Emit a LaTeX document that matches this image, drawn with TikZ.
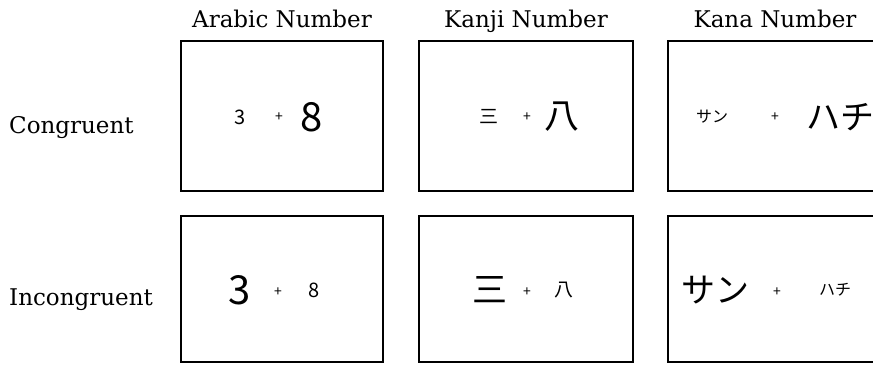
\documentclass[tikz,border=0pt]{standalone}
\usepackage{fontspec}
\setmainfont{DejaVu Serif}
\newfontfamily\jpfont{Noto Sans CJK JP}
\usetikzlibrary{positioning}
\tikzset{
  cell/.style={draw,line width=1.8pt,inner sep=0pt},
  head/.style={font=\fontsize{23}{27}\selectfont,inner sep=0pt},
  cond/.style={font=\fontsize{23}{27}\selectfont,inner sep=0pt,anchor=base west},
  bigdigit/.style={font=\jpfont\fontsize{40}{42}\selectfont,inner sep=0pt},
  smalldigit/.style={font=\jpfont\fontsize{20}{22}\selectfont,inner sep=0pt},
  bigkanji/.style={font=\jpfont\fontsize{35}{37}\selectfont,inner sep=0pt},
  smallkanji/.style={font=\jpfont\fontsize{19}{21}\selectfont,inner sep=0pt},
  bigkana/.style={font=\jpfont\fontsize{34}{36}\selectfont,inner sep=0pt},
  smallkana/.style={font=\jpfont\fontsize{16}{18}\selectfont,inner sep=0pt},
  plus/.style={font=\jpfont\fontsize{14}{16}\selectfont,inner sep=0pt}
}

\begin{document}
\begin{tikzpicture}[x=1pt,y=-1pt]
\useasboundingbox (0,0) rectangle (873,365);
\clip (0,0) rectangle (873,365);
% cells
\node[cell,minimum width=202pt,minimum height=150pt] (ar1) at (282,116) {};
\node[cell,minimum width=214pt,minimum height=150pt] (kj1) at (526,116) {};
\node[cell,minimum width=214pt,minimum height=150pt] (kn1) at (775,116) {};
\node[cell,minimum width=202pt,minimum height=146pt] (ar2) at (282,289) {};
\node[cell,minimum width=214pt,minimum height=146pt] (kj2) at (526,289) {};
\node[cell,minimum width=214pt,minimum height=146pt] (kn2) at (775,289) {};
% headers
\node[head,above=13pt of ar1.north,anchor=base] (harabic) {Arabic Number};
\node[head,above=13pt of kj1.north,anchor=base] (hkanji) {Kanji Number};
\node[head,above=13pt of kn1.north,anchor=base] (hkana) {Kana Number};
% conditions
\node[cond] (congruent) at (9,133) {Congruent};
\node[cond] (incongruent) at (9,305) {Incongruent};
% congruent row
\node[smalldigit] (ar1l) at ([xshift=-42pt,yshift=-1pt]ar1.center) {3};
\node[plus] (ar1p) at ([xshift=-3pt,yshift=-1pt]ar1.center) {+};
\node[bigdigit] (ar1r) at ([xshift=30pt,yshift=-1pt]ar1.center) {8};
\node[smallkanji] (kj1l) at ([xshift=-37pt,yshift=-1pt]kj1.center) {三};
\node[plus] (kj1p) at ([xshift=1pt,yshift=-1pt]kj1.center) {+};
\node[bigkanji] (kj1r) at ([xshift=36pt,yshift=-1pt]kj1.center) {八};
\node[smallkana] (kn1l) at ([xshift=-63pt,yshift=-1pt]kn1.center) {サン};
\node[plus] (kn1p) at ([xshift=0pt,yshift=-1pt]kn1.center) {+};
\node[bigkana] (kn1r) at ([xshift=65pt,yshift=-1pt]kn1.center) {ハチ};
% incongruent row
\node[bigdigit] (ar2l) at ([xshift=-42pt,yshift=-1pt]ar2.center) {3};
\node[plus] (ar2p) at ([xshift=-4pt,yshift=-3pt]ar2.center) {+};
\node[smalldigit] (ar2r) at ([xshift=32pt,yshift=-1pt]ar2.center) {8};
\node[bigkanji] (kj2l) at ([xshift=-36pt,yshift=-1pt]kj2.center) {三};
\node[plus] (kj2p) at ([xshift=1pt,yshift=-3pt]kj2.center) {+};
\node[smallkanji] (kj2r) at ([xshift=38pt,yshift=-1pt]kj2.center) {八};
\node[bigkana] (kn2l) at ([xshift=-60pt,yshift=-1pt]kn2.center) {サン};
\node[plus] (kn2p) at ([xshift=2pt,yshift=-3pt]kn2.center) {+};
\node[smallkana] (kn2r) at ([xshift=60pt,yshift=-1pt]kn2.center) {ハチ};
\end{tikzpicture}
\end{document}
